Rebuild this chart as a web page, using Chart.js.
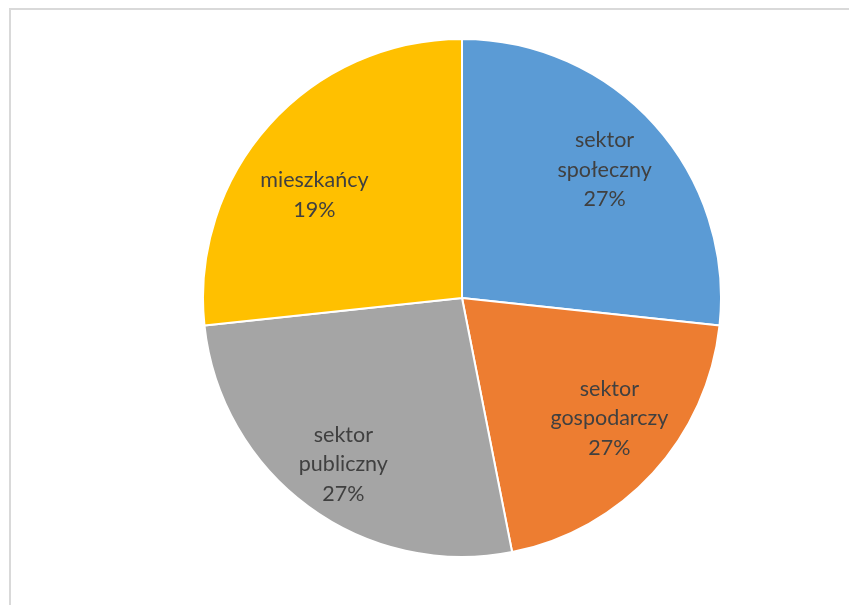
<!DOCTYPE html>
<html>
<head>
<meta charset="utf-8">
<script src="https://cdn.jsdelivr.net/npm/chart.js@4/dist/chart.umd.min.js"></script>
<style>
  html, body { margin: 0; padding: 0; background: #ffffff; }
  body { width: 849px; height: 605px; position: relative; overflow: hidden; }
  #frame { position: absolute; left: 9px; top: 8px; width: 860px; height: 620px;
           border-left: 2px solid #d9d9d9; border-top: 2px solid #d9d9d9; box-sizing: border-box; }
  #wrap { position: absolute; left: 202px; top: 38px; width: 520px; height: 520px; }
</style>
</head>
<body>
<div id="frame"></div>
<div id="wrap"><canvas id="c" width="520" height="520"></canvas></div>
<script>
const categories = ["sektor społeczny", "sektor gospodarczy", "sektor publiczny", "mieszkańcy"];
const labelLines = [["sektor", "społeczny"], ["sektor", "gospodarczy"], ["sektor", "publiczny"], ["mieszkańcy"]];
const shareValues = [26.7, 20.2, 26.4, 26.7];
const shownPercents = ["27%", "27%", "27%", "19%"];
const sliceColors = ["#5b9bd5", "#ed7d31", "#a5a5a5", "#ffc000"];

// label nudges (px) relative to the default in-slice position
const labelNudge = [[0, 0], [6, -9], [-5, 12], [-5, 25]];

const labelPlugin = {
  id: 'sliceLabels',
  afterDatasetsDraw(chart) {
    const ctx = chart.ctx;
    const meta = chart.getDatasetMeta(0);
    ctx.save();
    ctx.font = '21.5px Lato, "Open Sans", sans-serif';
    ctx.fillStyle = '#404040';
    ctx.textAlign = 'center';
    ctx.textBaseline = 'middle';
    meta.data.forEach((arc, i) => {
      const mid = (arc.startAngle + arc.endAngle) / 2;
      const r = arc.outerRadius * 0.74;
      const x = arc.x + Math.cos(mid) * r + labelNudge[i][0];
      const y = arc.y + Math.sin(mid) * r + labelNudge[i][1];
      const lines = labelLines[i].concat([shownPercents[i]]);
      const lh = 29.5;
      const y0 = y - (lines.length - 1) * lh / 2;
      lines.forEach((t, k) => ctx.fillText(t, x, y0 + k * lh));
    });
    ctx.restore();
  }
};

new Chart(document.getElementById('c'), {
  type: 'pie',
  data: {
    labels: categories,
    datasets: [{
      data: shareValues,
      backgroundColor: sliceColors,
      borderColor: '#ffffff',
      borderWidth: 2
    }]
  },
  options: {
    responsive: false,
    animation: false,
    layout: { padding: 0 },
    plugins: { legend: { display: false }, tooltip: { enabled: false }, title: { display: false } }
  },
  plugins: [labelPlugin]
});
</script>
</body>
</html>
